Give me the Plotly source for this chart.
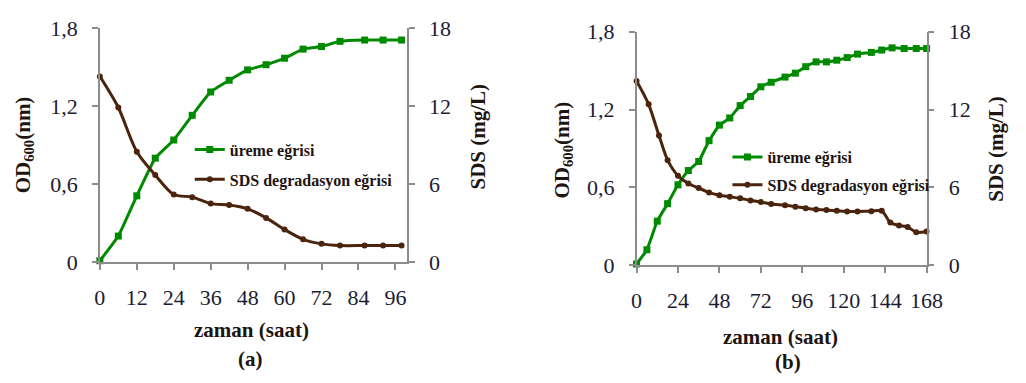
import plotly.graph_objects as go

# Panel (a): 0-96 h culture
hours_a = [0, 6, 12, 18, 24, 30, 36, 42, 48, 54, 60, 66, 72, 78, 86, 92, 98]
od_a = [0.01, 0.20, 0.51, 0.80, 0.94, 1.13, 1.31, 1.40, 1.48, 1.52, 1.57, 1.64, 1.66, 1.70, 1.71, 1.71, 1.71]
sds_a = [14.3, 11.9, 8.5, 6.7, 5.2, 5.0, 4.5, 4.4, 4.1, 3.4, 2.5, 1.75, 1.4, 1.27, 1.27, 1.27, 1.27]

# Panel (b): 0-168 h culture
hours_b_od = [0, 6, 12, 18, 24, 30, 36, 42, 48, 54, 60, 66, 72, 78, 86, 92, 98, 104,
              110, 116, 122, 128, 136, 142, 148, 155, 162, 168]
od_b = [0.01, 0.12, 0.34, 0.475, 0.62, 0.73, 0.80, 0.96, 1.08, 1.135, 1.23, 1.30, 1.375,
        1.41, 1.45, 1.48, 1.53, 1.567, 1.567, 1.58, 1.60, 1.627, 1.64, 1.658, 1.675, 1.67, 1.67, 1.67]
hours_b_sds = [0, 7, 13, 18, 24, 30, 36, 42, 48, 54, 60, 66, 72, 78, 86, 92, 98, 104,
               110, 116, 122, 128, 136, 142, 147, 152, 157, 162, 168]
sds_b = [14.2, 12.4, 10.0, 8.1, 6.9, 6.3, 5.95, 5.6, 5.4, 5.28, 5.16, 5.0, 4.87, 4.72, 4.63,
         4.52, 4.39, 4.3, 4.27, 4.2, 4.15, 4.15, 4.17, 4.2, 3.3, 3.07, 2.95, 2.55, 2.6]

od_ticks = [0, 0.6, 1.2, 1.8]
od_tick_text = ["0", "0,6", "1,2", "1,8"]
sds_ticks = [0, 6, 12, 18]
x_ticks_a = [0, 12, 24, 36, 48, 60, 72, 84, 96]
x_ticks_b = [0, 24, 48, 72, 96, 120, 144, 168]

GREEN = "#008a00"
BROWN = "#4a240c"
AXIS = "#8c8c8c"
TEXT = "#1e1410"
TICK_TEXT = "#1c1c34"
SERIF = "Liberation Serif, Times New Roman, serif"

W, H = 1026, 383


def px(x):
    return x / W


def py(y):
    return 1 - y / H


fig = go.Figure()


def add_panel(xa, ya_od, ya_sds, legend, hx_od, od, hx_sds, sds):
    fig.add_trace(go.Scatter(
        x=hx_od, y=od, name="üreme eğrisi", mode="lines+markers",
        xaxis=xa, yaxis=ya_od, legend=legend, legendgroup=legend + "g",
        line=dict(color=GREEN, width=3, shape="spline", smoothing=0.4),
        marker=dict(symbol="square", size=7, color=GREEN),
        cliponaxis=False))
    fig.add_trace(go.Scatter(
        x=hx_sds, y=sds, name="SDS degradasyon eğrisi", mode="lines+markers",
        xaxis=xa, yaxis=ya_sds, legend=legend, legendgroup=legend + "b",
        line=dict(color=BROWN, width=3, shape="spline", smoothing=0.8),
        marker=dict(symbol="circle", size=6, color=BROWN),
        cliponaxis=False))


add_panel("x", "y", "y2", "legend", hours_a, od_a, hours_a, sds_a)
add_panel("x2", "y3", "y4", "legend2", hours_b_od, od_b, hours_b_sds, sds_b)

tickfont = dict(family=SERIF, size=22, color=TICK_TEXT)
common_axis = dict(showgrid=False, zeroline=False, showline=True, linecolor=AXIS,
                   linewidth=1.5, ticks="outside", ticklen=6, tickcolor=AXIS,
                   tickwidth=1.5, tickfont=tickfont)

# panel rectangles in pixels
a_l, a_r, a_t, a_b = 96, 410, 17.5, 267.5
b_l, b_r, b_t, b_b = 645, 941.7, 21, 271

fig.update_layout(
    width=W, height=H, margin=dict(l=0, r=0, t=0, b=0),
    paper_bgcolor="white", plot_bgcolor="white", showlegend=True,
    xaxis=dict(domain=[px(a_l), px(a_r)], range=[0, 99.7], tickvals=x_ticks_a,
               anchor="y", ticklabelstandoff=9, **common_axis),
    yaxis=dict(domain=[py(a_b), py(a_t)], range=[0, 1.8], tickvals=od_ticks,
               ticktext=od_tick_text, anchor="x", ticklabelstandoff=10, **common_axis),
    yaxis2=dict(domain=[py(a_b), py(a_t)], range=[0, 18], tickvals=sds_ticks,
                overlaying="y", side="right", anchor="x", ticklabelstandoff=10, **common_axis),
    xaxis2=dict(domain=[px(b_l), px(b_r)], range=[0, 168], tickvals=x_ticks_b,
                anchor="y3", ticklabelstandoff=9, **common_axis),
    yaxis3=dict(domain=[py(b_b), py(b_t)], range=[0, 1.8], tickvals=od_ticks,
                ticktext=od_tick_text, anchor="x2", ticklabelstandoff=10, **common_axis),
    yaxis4=dict(domain=[py(b_b), py(b_t)], range=[0, 18], tickvals=sds_ticks,
                overlaying="y3", side="right", anchor="x2", ticklabelstandoff=10, **common_axis),
    legend=dict(x=px(188), y=py(129), xanchor="left", yanchor="top",
                bgcolor="rgba(0,0,0,0)", tracegroupgap=6, traceorder="grouped",
                font=dict(family=SERIF, size=16, color=TEXT, weight="bold")),
    legend2=dict(x=px(738), y=py(137), xanchor="left", yanchor="top",
                 bgcolor="rgba(0,0,0,0)", tracegroupgap=4, traceorder="grouped",
                 font=dict(family=SERIF, size=16, color=TEXT, weight="bold")),
)

title_font = dict(family=SERIF, size=21, color=TEXT)
annotations = [
    # panel (a)
    dict(x=px(18), y=py(142), text="<b>OD<sub>600</sub>(nm)</b>", textangle=-90),
    dict(x=px(483), y=py(133), text="<b>SDS (mg/L)</b>", textangle=-90),
    dict(x=px(251), y=py(340), text="<b>zaman (saat)</b>"),
    dict(x=px(250), y=py(371), text="<b>(a)</b>"),
    # panel (b)
    dict(x=px(792), y=py(348), text="<b>zaman (saat)</b>"),
    dict(x=px(800), y=py(374), text="<b>(b)</b>"),
    dict(x=px(570), y=py(148), text="<b>OD<sub>600</sub>(nm)</b>", textangle=-90),
    dict(x=px(1013), y=py(146), text="<b>SDS (mg/L)</b>", textangle=-90),
]
for a in annotations:
    a.update(xref="paper", yref="paper", showarrow=False, font=title_font,
             xanchor="center", yanchor="middle")
fig.update_layout(annotations=annotations)

fig.write_html("out.html")
